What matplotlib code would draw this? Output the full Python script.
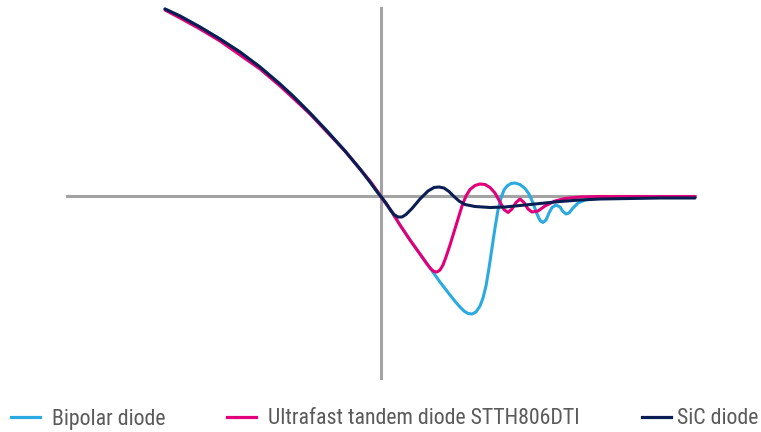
import matplotlib
matplotlib.use("Agg")
import matplotlib.pyplot as plt
from matplotlib import font_manager
from matplotlib.lines import Line2D
import numpy as np

# ---- data (in reference pixels; drawn relative to the axes crossing) ----
OX, OY = 381, 196  # axes crossing in reference pixels

bipolar_px = [165, 180, 200, 220, 240, 260, 280, 293, 310, 327, 345, 360, 370, 378, 381,
              390, 400, 410, 420, 430, 440, 450, 456, 460, 464, 468, 472, 476, 480, 483,
              486, 489, 492, 495, 498, 501, 504, 507, 511, 515, 520, 525, 529, 533, 537,
              540, 543, 546, 549, 552, 556, 560, 563, 566, 569, 573, 578, 585, 595, 610,
              640, 695]
bipolar_py = [9, 16, 27, 39, 52, 67, 84, 96, 113, 131, 151, 169, 182, 193, 197,
              209, 225, 240, 254, 268, 282, 295, 302.5, 307, 311, 313.5, 314, 312, 306, 298,
              286, 268, 248, 228, 210, 198, 190, 186, 183.5, 183, 184.5, 188.5, 194, 203, 214,
              220.5, 222.5, 220, 213, 207.5, 205, 207, 211.5, 214, 213, 208, 203, 200, 198.5, 197.5,
              197, 197]

ultrafast_px = [165, 180, 200, 220, 240, 260, 280, 293, 310, 327, 345, 360, 370, 378, 381,
                390, 400, 410, 420, 427, 431, 434, 437, 440, 443, 446, 450, 454, 458, 462,
                466, 470, 475, 480, 485, 490, 495, 500, 504, 508, 512, 516, 520, 524, 528,
                532, 538, 545, 555, 565, 580, 600, 695]
ultrafast_py = [10, 18, 29, 41, 55, 69, 86, 98, 114, 132, 151, 169, 181, 192, 197,
                209, 225, 240, 254, 264, 269, 271.5, 272, 270, 265, 257, 245, 232, 219, 206,
                196, 189.5, 185.5, 184, 184.5, 187.5, 193, 202, 209.5, 212.5, 209, 202.5, 199, 202.5, 209,
                212, 211, 206, 201, 198.5, 197, 196.5, 196.5]

sic_px = [165, 180, 200, 220, 240, 260, 280, 293, 310, 327, 345, 360, 370, 378, 381,
          386, 390, 394, 398, 402, 406, 412, 420, 428, 434, 439, 444, 449, 454, 459,
          465, 475, 490, 505, 520, 540, 560, 580, 600, 630, 660, 695]
sic_py = [9, 16, 27, 39, 52, 67, 84, 96, 113, 131, 151, 169, 182, 193, 196.5,
          203, 209.5, 214.5, 217, 217, 214.5, 208.5, 199, 191, 187.5, 187, 188, 191.5, 196.5, 201,
          204.5, 206.5, 207.5, 207, 205.5, 203.5, 201.5, 200, 199, 198.5, 198, 198]

series_names = ["Bipolar diode", "Ultrafast tandem diode STTH806DTI", "SiC diode"]
series_colors = ["#2AAAE1", "#E2007A", "#0A1E52"]

# ---- font: prefer a narrow / condensed sans ----
def pick_font():
    entries = font_manager.fontManager.ttflist
    prefs = ["LiberationSansNarrow-Regular", "RobotoCondensed-Regular", "Roboto Condensed",
             "OpenSansCondensed", "OpenSans_Condensed-Regular", "DejaVuSansCondensed.ttf",
             "NotoSans-Condensed", "NotoSansCondensed"]
    for p in prefs:
        for e in entries:
            fn = e.fname.replace(" ", "")
            if p.replace(" ", "") in fn and "Bold" not in fn and "Italic" not in fn \
                    and "Light" not in fn and "Medium" not in fn and "Semi" not in fn:
                return font_manager.FontProperties(fname=e.fname)
    for e in entries:
        fn = e.fname
        if ("Narrow" in fn or "Condensed" in fn) and "Bold" not in fn and "Italic" not in fn \
                and "Light" not in fn and "Medium" not in fn and "Semi" not in fn \
                and "Black" not in fn and "Thin" not in fn and "Extra" not in fn:
            return font_manager.FontProperties(fname=e.fname)
    return font_manager.FontProperties(family=["Roboto", "DejaVu Sans"])

fp = pick_font()

W, H = 761, 432
fig = plt.figure(figsize=(W / 100, H / 100), dpi=100)
fig.patch.set_facecolor("white")
ax = fig.add_axes([0, 0, 1, 1])
ax.set_xlim(-OX, W - OX)
ax.set_ylim(-(H - OY), OY)
ax.axis("off")

grey = "#A3A3A3"
ax.axhline(0, xmin=67 / W, xmax=695 / W, color=grey, lw=2.2, zorder=1)
ax.axvline(0, ymin=(H - 378) / H, ymax=(H - 8) / H, color=grey, lw=2.2, zorder=1)

def to_xy(px, py):
    return np.array(px, float) - OX, OY - np.array(py, float)

for (px, py), col, z in zip(
        [(bipolar_px, bipolar_py), (ultrafast_px, ultrafast_py), (sic_px, sic_py)],
        series_colors, [2, 3, 4]):
    x, y = to_xy(px, py)
    ax.plot(x, y, color=col, lw=2.2, solid_capstyle="round", solid_joinstyle="round", zorder=z)

# ---- legend (manual, figure coordinates) ----
renderer = fig.canvas.get_renderer()
probe = fig.text(0, 0, series_names[1], fontproperties=fp, fontsize=16)
w16 = probe.get_window_extent(renderer).width
probe.remove()
fsize = min(17.0, 16 * 313.0 / w16)

leg_y = 1 - 416.5 / H
base_y = 1 - 424.5 / H
handle_x = [(11, 40), (227, 256), (642, 671)]
text_x = [52, 268, 677]
for (x0, x1), tx, name, col in zip(handle_x, text_x, series_names, series_colors):
    fig.add_artist(Line2D([x0 / W, x1 / W], [leg_y, leg_y], transform=fig.transFigure,
                          color=col, lw=2.3))
    fig.text(tx / W, base_y, name, fontproperties=fp, fontsize=fsize, color="#5A5A5A",
             va="baseline", ha="left")

fig.savefig("out.png", dpi=100, facecolor="white")
